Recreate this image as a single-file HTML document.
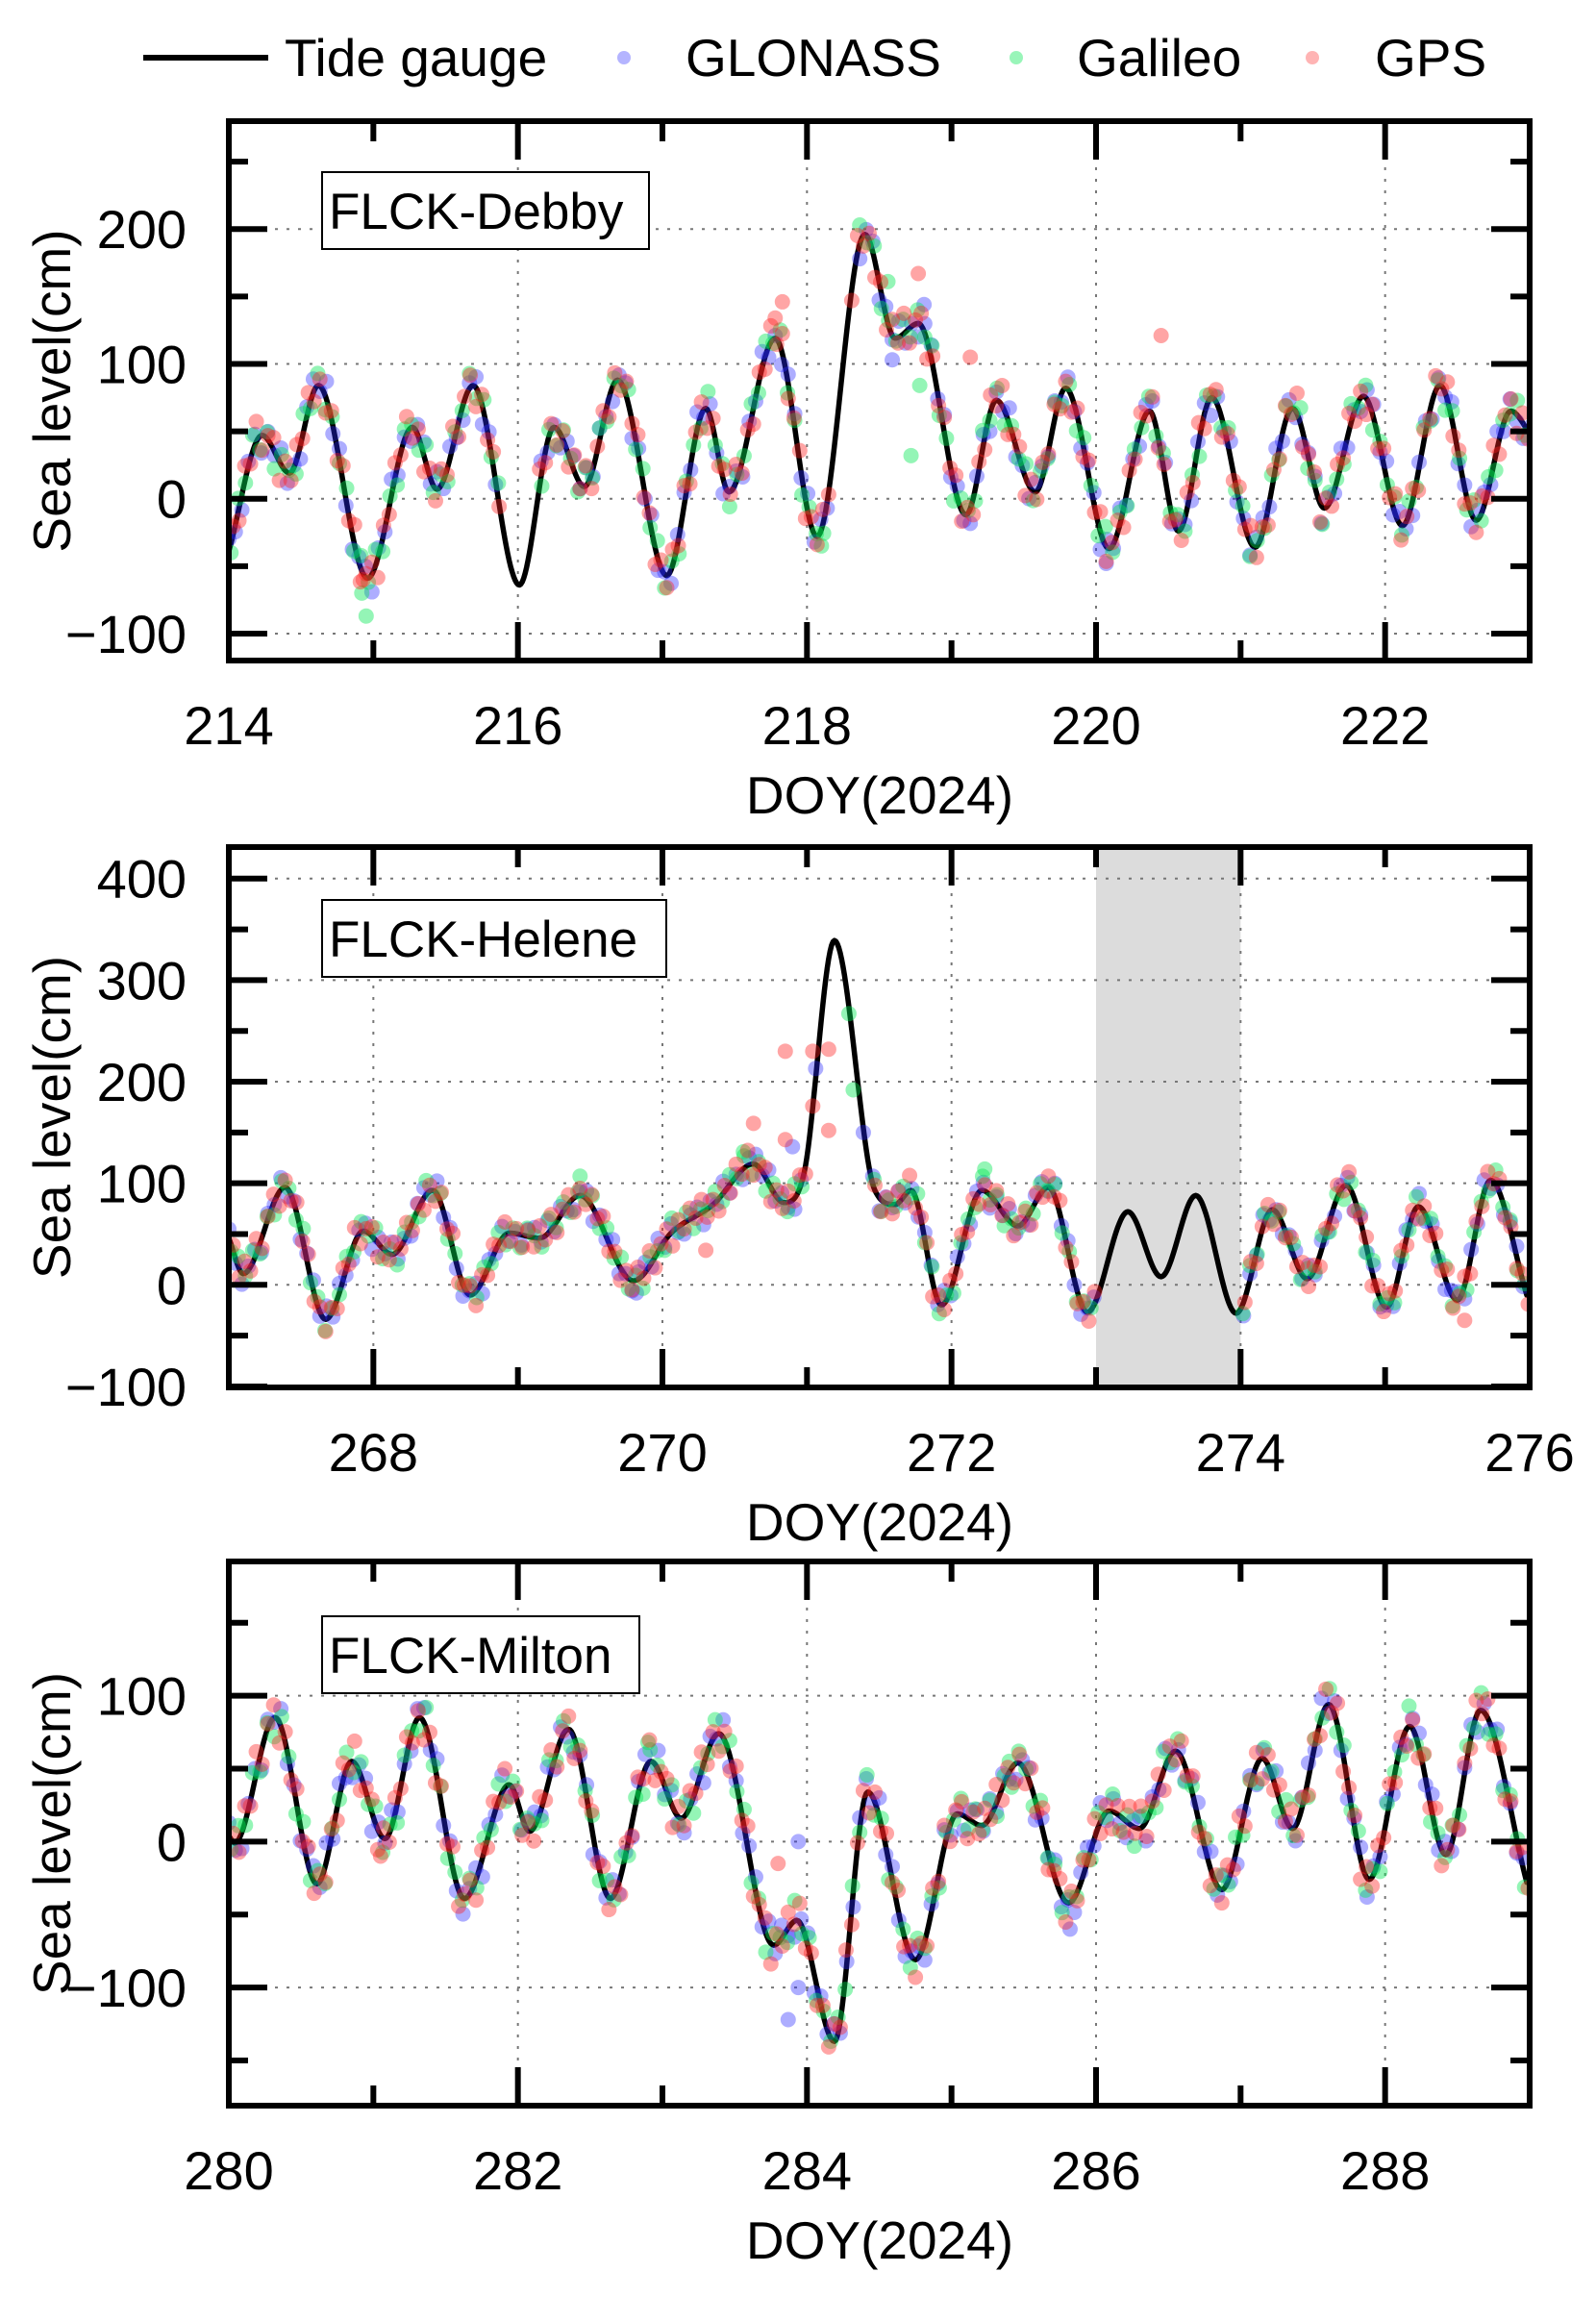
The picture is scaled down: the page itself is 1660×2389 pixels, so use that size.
<!DOCTYPE html>
<html><head><meta charset="utf-8"><style>
html,body{margin:0;padding:0;background:#fff}
svg{display:block}
text{font-family:"Liberation Sans",Arial,sans-serif;fill:#000}
</style></head><body>
<svg id="fig" width="1660" height="2389" viewBox="0 0 1660 2389" xmlns="http://www.w3.org/2000/svg">
<g>
  <line x1="149" y1="60" x2="279" y2="60" stroke="#000" stroke-width="6"/>
  <text x="296" y="79" font-size="55">Tide gauge</text>
  <circle cx="649" cy="60" r="7" fill="rgba(40,40,255,0.35)"/>
  <text x="713" y="79" font-size="55">GLONASS</text>
  <circle cx="1057" cy="60" r="7" fill="rgba(0,230,80,0.4)"/>
  <text x="1120" y="79" font-size="55">Galileo</text>
  <circle cx="1365" cy="60" r="7" fill="rgba(255,40,40,0.35)"/>
  <text x="1430" y="79" font-size="55">GPS</text>
</g>
</svg>
<script>
// ===== Panel 1: FLCK-Debby =====
const debbyTideT = [214.0,214.23,214.42,214.62,214.96,215.27,215.44,215.69,216.01,216.25,216.46,216.69,217.03,217.30,217.46,217.78,218.07,218.40,218.61,218.77,219.10,219.31,219.58,219.79,220.09,220.37,220.57,220.80,221.10,221.36,221.58,221.85,222.12,222.38,222.63,222.87,223.0];
const debbyTideV = [-39,47,19,84,-59,53,7,84,-64,53,9,88,-57,67,5,119,-28,196,119,130,-12,73,5,82,-37,65,-24,75,-36,67,-7,76,-20,84,-16,65,49];
const debbyGaps = [[215.88,216.12],[218.15,218.32]];
const debbyGpsOutT = [217.83,218.77,219.13,220.45,218.31,217.78,214.93];
const debbyGpsOutV = [146,167,105,121,147,134,-60];
const debbyGalOutT = [214.95,214.92,218.72,218.78,218.56,218.1];
const debbyGalOutV = [-87,-70,32,84,161,-35];
const debbyGloOutT = [218.81,218.59,220.07];
const debbyGloOutV = [144,103,-48];

// ===== Panel 2: FLCK-Helene =====
const heleneTideT = [267.0,267.1,267.39,267.67,267.93,268.13,268.41,268.67,268.94,269.15,269.43,269.80,270.06,270.35,270.63,270.84,270.98,271.19,271.47,271.61,271.72,271.93,272.21,272.46,272.67,272.94,273.22,273.45,273.69,273.97,274.22,274.46,274.73,275.01,275.23,275.5,275.73,275.98];
const heleneTideV = [46,11,96,-34,53,30,93,-10,51,46,88,4,51,79,119,81,110,339,93,79,93,-20,93,58,96,-27,72,8,88,-28,74,6,98,-22,77,-15,103,-10];
const heleneGaps = [[271.0,271.45],[273.0,274.0]];
const heleneGpsOutT = [270.85,271.04,271.15,270.63,270.85,271.04,271.15,270.3,275.55];
const heleneGpsOutV = [230,230,232,159,143,176,152,34,-35];
const heleneGalOutT = [271.29,271.32,270.56,272.23,269.43];
const heleneGalOutV = [267,192,131,114,107];
const heleneGloOutT = [271.06,271.39,270.9,269.82];
const heleneGloOutV = [213,150,136,-8];

// ===== Panel 3: FLCK-Milton =====
const miltonTideT = [280.0,280.04,280.32,280.61,280.85,281.08,281.32,281.63,281.94,282.08,282.35,282.64,282.92,283.13,283.39,283.77,283.93,284.19,284.42,284.75,285.04,285.21,285.46,285.81,286.09,286.30,286.55,286.87,287.15,287.36,287.61,287.89,288.17,288.42,288.66,288.98];
const miltonTideV = [4,-1,85,-29,55,2,85,-39,39,7,77,-39,55,16,74,-71,-54,-137,34,-81,19,11,54,-42,21,9,62,-33,57,9,94,-26,79,-9,90,-28];
const miltonGaps = [];
const miltonGpsOutT = [283.8,281.05];
const miltonGpsOutV = [-15,-10];
const miltonGalOutT = [282.9,285.4];
const miltonGalOutV = [68,55];
const miltonGloOutT = [283.94,283.87,283.94,285.82];
const miltonGloOutV = [0,-122,-100,-60];

// Residual (GNSS minus tide gauge) patterns in cm, read as typical scatter
const gpsResid = [6,-9,12,-4,15,-11,3,9,-14,7,-6,11,-2,13,-8,5,-12];
const galResid = [-7,10,-3,12,-10,5,-13,8,2,-9,14,-5,9,-11,4,-2,11];
const gloResid = [9,-5,-11,4,8,-13,6,-3,12,-8,2,-10,7,10,-4,13,-6];

// Axis tick arrays
const debbyXTicks = [214,216,218,220,222];
const debbyYTicks = [-100,0,100,200];
const heleneXTicks = [268,270,272,274,276];
const heleneYTicks = [-100,0,100,200,300,400];
const miltonXTicks = [280,282,284,286,288];
const miltonYTicks = [-100,0,100];
const heleneShade = [273,274];

const NS = "http://www.w3.org/2000/svg";
const svg = document.getElementById('fig');
function mk(tag, attrs, parent){const e=document.createElementNS(NS,tag);for(const k in attrs)e.setAttribute(k,attrs[k]);(parent||svg).appendChild(e);return e;}

function monotone(xs, ys){
  const n=xs.length, d=[], m=new Array(n);
  for(let i=0;i<n-1;i++) d.push((ys[i+1]-ys[i])/(xs[i+1]-xs[i]));
  m[0]=d[0]; m[n-1]=d[n-2];
  for(let i=1;i<n-1;i++){ m[i]=(d[i-1]*d[i]<=0)?0:(d[i-1]+d[i])/2; }
  for(let i=0;i<n-1;i++){
    if(d[i]===0){m[i]=0;m[i+1]=0;continue;}
    const a=m[i]/d[i], b=m[i+1]/d[i], s=a*a+b*b;
    if(s>9){const t=3/Math.sqrt(s);m[i]=t*a*d[i];m[i+1]=t*b*d[i];}
  }
  return function(x){
    let i=0; while(i<n-2 && x>xs[i+1]) i++;
    const h=xs[i+1]-xs[i], t=Math.max(0,Math.min(1,(x-xs[i])/h));
    const t2=t*t,t3=t2*t;
    return (2*t3-3*t2+1)*ys[i]+(t3-2*t2+t)*h*m[i]+(-2*t3+3*t2)*ys[i+1]+(t3-t2)*h*m[i+1];
  };
}

const COL = {gps:'rgba(255,30,30,0.4)', gal:'rgba(0,230,80,0.42)', glo:'rgba(40,40,255,0.38)'};
const RES = {gps:gpsResid, gal:galResid, glo:gloResid};

function panel(p){
  const g = mk('g',{});
  
  
  const sx = v => p.x0 + (v-p.xmin)/(p.xmax-p.xmin)*(p.x1-p.x0);
  const sy = v => p.y1 - (v-p.ymin)/(p.ymax-p.ymin)*(p.y1-p.y0);
  if(p.shade){
    const r = mk('rect',{x:sx(p.shade[0]),y:p.y0,width:sx(p.shade[1])-sx(p.shade[0]),height:p.y1-p.y0,fill:'#dcdcdc'},g);
    
    
  }
  p.xt.forEach(v=>{ if(v>p.xmin && v<p.xmax){ const l=mk('line',{x1:sx(v),x2:sx(v),y1:p.y0,y2:p.y1,stroke:'#777','stroke-width':2,'stroke-dasharray':'3 9'},g);
      }});
  p.yt.forEach(v=>{ if(v>p.ymin && v<p.ymax){ const l=mk('line',{x1:p.x0,x2:p.x1,y1:sy(v),y2:sy(v),stroke:'#777','stroke-width':2,'stroke-dasharray':'3 9'},g);
      }});
  const f = monotone(p.tideT, p.tideV);
  const inGap = t => p.gaps.some(gp=>t>gp[0]&&t<gp[1]);
  const cp = mk('clipPath',{id:'clip-'+p.name},g);
  mk('rect',{x:p.x0,y:p.y0,width:p.x1-p.x0,height:p.y1-p.y0},cp);
  let d='';
  for(let t=p.xmin;t<=p.xmax+1e-9;t+=0.01){ d+=(d?'L':'M')+sx(t).toFixed(1)+' '+sy(f(t)).toFixed(1); }
  const path = mk('path',{d:d,fill:'none',stroke:'#000','stroke-width':5.5,'stroke-linejoin':'round','clip-path':'url(#clip-'+p.name+')'},g);
  
  
  const dg = mk('g',{'clip-path':'url(#clip-'+p.name+')'},g);
  
  
  const sys = [['glo',0.0,0.045,p.gloT,p.gloV],['gal',0.015,0.05,p.galT,p.galV],['gps',0.03,0.04,p.gpsT,p.gpsV]];
  sys.forEach(([k,ph,st,ot,ov])=>{
    let i=0;
    for(let t=p.xmin+ph;t<=p.xmax;t+=st){
      if(inGap(t)) continue;
      const res = RES[k][i % RES[k].length]; i++;
      const c=mk('circle',{cx:sx(t),cy:sy(f(t)+res),r:8,fill:COL[k]},dg);
      
      
    }
    ot.forEach((t,j)=>{
      const c=mk('circle',{cx:sx(t),cy:sy(ov[j]),r:8,fill:COL[k]},dg);
      
      
    });
  });
  const tk = mk('g',{stroke:'#000','stroke-width':6},g);
  
  
  for(let v=Math.ceil(p.xmin);v<=p.xmax;v++){
    const major = p.xt.includes(v); const L = major?40:21;
    mk('line',{x1:sx(v),x2:sx(v),y1:p.y1,y2:p.y1-L},tk);
    mk('line',{x1:sx(v),x2:sx(v),y1:p.y0,y2:p.y0+L},tk);
  }
  for(let v=Math.ceil(p.ymin/50)*50; v<=p.ymax; v+=50){
    const major = p.yt.includes(v); const L = major?40:20;
    mk('line',{x1:p.x0,x2:p.x0+L,y1:sy(v),y2:sy(v)},tk);
    mk('line',{x1:p.x1,x2:p.x1-L,y1:sy(v),y2:sy(v)},tk);
  }
  const fr = mk('rect',{x:p.x0,y:p.y0,width:p.x1-p.x0,height:p.y1-p.y0,fill:'none',stroke:'#000','stroke-width':6},g);
  
  
  p.xt.forEach(v=>{
    const t=mk('text',{x:sx(v),y:p.y1+87,'font-size':56,'text-anchor':'middle'},g); t.textContent=v;
     
  });
  p.yt.forEach(v=>{
    const t=mk('text',{x:194,y:sy(v)+20,'font-size':56,'text-anchor':'end'},g); t.textContent=(v<0?'\u2212':'')+Math.abs(v);
     
  });
  const xt=mk('text',{x:915,y:p.y1+159,'font-size':55,'text-anchor':'middle'},g); xt.textContent='DOY(2024)';
   
  const cy=(p.y0+p.y1)/2;
  const yt=mk('text',{x:0,y:0,'font-size':55,'text-anchor':'middle',transform:'translate(73 '+cy+') rotate(-90)'},g); yt.textContent='Sea level(cm)';
   
  const bx=mk('rect',{x:335,y:p.by,width:p.bw,height:80,fill:'#fff',stroke:'#000','stroke-width':2},g);
   
  const bt=mk('text',{x:342,y:p.by+59,'font-size':53},g); bt.textContent=p.label;
   
}

panel({name:'debby',label:'FLCK-Debby',x0:238,x1:1591,y0:126,y1:687,xmin:214,xmax:223,ymin:-120,ymax:280,
  xt:debbyXTicks,yt:debbyYTicks,tideT:debbyTideT,tideV:debbyTideV,gaps:debbyGaps,
  gpsT:debbyGpsOutT,gpsV:debbyGpsOutV,galT:debbyGalOutT,galV:debbyGalOutV,gloT:debbyGloOutT,gloV:debbyGloOutV,by:179,bw:340});
panel({name:'helene',label:'FLCK-Helene',x0:238,x1:1591,y0:881,y1:1443,xmin:267,xmax:276,ymin:-101,ymax:431,
  xt:heleneXTicks,yt:heleneYTicks,tideT:heleneTideT,tideV:heleneTideV,gaps:heleneGaps,shade:heleneShade,
  gpsT:heleneGpsOutT,gpsV:heleneGpsOutV,galT:heleneGalOutT,galV:heleneGalOutV,gloT:heleneGloOutT,gloV:heleneGloOutV,by:936,bw:358});
panel({name:'milton',label:'FLCK-Milton',x0:238,x1:1591,y0:1624,y1:2190,xmin:280,xmax:289,ymin:-181,ymax:192,
  xt:miltonXTicks,yt:miltonYTicks,tideT:miltonTideT,tideV:miltonTideV,gaps:miltonGaps,
  gpsT:miltonGpsOutT,gpsV:miltonGpsOutV,galT:miltonGalOutT,galV:miltonGalOutV,gloT:miltonGloOutT,gloV:miltonGloOutV,by:1681,bw:330});
</script>
</body></html>
